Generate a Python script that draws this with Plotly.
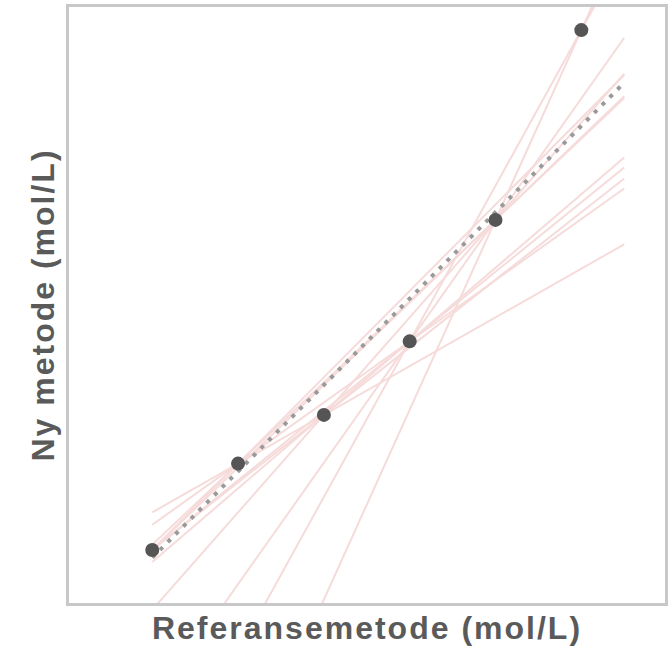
import numpy as np
import plotly.graph_objects as go

# Data
ref_x = [1, 2, 3, 4, 5, 6]
new_y = [0.63, 1.64, 2.21, 3.07, 4.49, 6.71]
# pairs of points whose connecting lines are drawn (1-based indices)
drawn_pairs = [(1, 2), (1, 3), (1, 4), (1, 5), (2, 3), (2, 4), (2, 5),
               (3, 4), (3, 5), (4, 5), (4, 6), (5, 6)]
x_title = "Referansemetode (mol/L)"
y_title = "Ny metode (mol/L)"
line_x_start, line_x_end = 1, 6.5

x = np.array(ref_x, dtype=float)
y = np.array(new_y, dtype=float)

fig = go.Figure()

# pairwise lines
for i, j in drawn_pairs:
    xi, yi, xj, yj = x[i - 1], y[i - 1], x[j - 1], y[j - 1]
    s = (yj - yi) / (xj - xi)
    xs = np.array([line_x_start, line_x_end])
    fig.add_trace(go.Scatter(x=xs, y=yi + s * (xs - xi), mode="lines",
                             line=dict(color="#f6dbdb", width=2),
                             hoverinfo="skip", showlegend=False))

# median-slope (Passing-Bablok style) fit over all pairs
slopes = []
n = len(x)
for i in range(n):
    for j in range(i + 1, n):
        slopes.append((y[j] - y[i]) / (x[j] - x[i]))
b = float(np.median(slopes))
a = float(np.median(y - b * x))
xs = np.array([line_x_start, line_x_end])
fig.add_trace(go.Scatter(x=xs, y=a + b * xs, mode="lines",
                         line=dict(color="#9a9a9a", width=4, dash="4px,7px"),
                         hoverinfo="skip", showlegend=False))

fig.add_trace(go.Scatter(x=x, y=y, mode="markers",
                         marker=dict(color="#555555", size=14),
                         showlegend=False))

title_font = dict(family="Liberation Sans, Arial, sans-serif", size=32,
                  color="#5a5a5a", weight="bold")
axis_common = dict(showgrid=False, zeroline=False, showticklabels=False,
                   ticks="", showline=True, mirror=True, linecolor="#c8c8c8",
                   linewidth=2.6, automargin=False)
fig.update_xaxes(**axis_common, range=[0.03, 6.975],
                 title=dict(text=x_title, font=title_font, standoff=12))
fig.update_yaxes(**axis_common, range=[0.01, 6.98],
                 title=dict(text=y_title, font=title_font, standoff=3))

fig.update_layout(width=672, height=652,
                  margin=dict(l=69, r=7, t=7, b=49, autoexpand=False),
                  paper_bgcolor="white", plot_bgcolor="white")

post = ("document.body.style.margin='0px';"
        "document.querySelectorAll('.xtitle, .ytitle').forEach(function(t){"
        "t.style.letterSpacing='2px';});")
fig.write_html("out.html", post_script=post, config={"displayModeBar": False})
